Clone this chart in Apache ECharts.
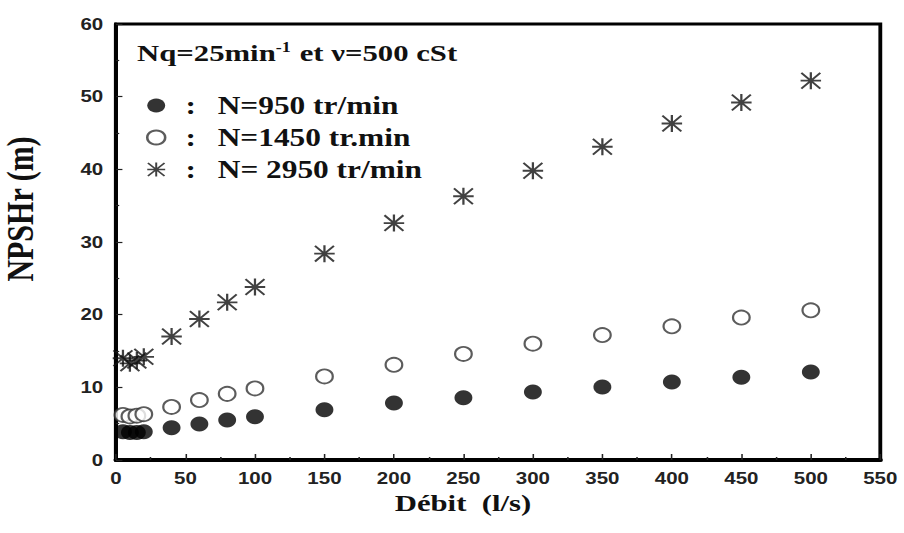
<!DOCTYPE html>
<html>
<head>
<meta charset="utf-8">
<script src="https://cdn.jsdelivr.net/npm/echarts@6/dist/echarts.min.js"></script>
<style>
html,body{margin:0;padding:0;background:#fff;overflow:hidden;width:904px;height:533px;}
#c{width:706px;height:533px;transform:scaleX(1.28045);transform-origin:0 0;}
</style>
</head>
<body>
<div id="c"></div>
<script>
// ---- data ----
var flow = [5, 10, 15, 20, 40, 60, 80, 100, 150, 200, 250, 300, 350, 400, 450, 500];
var npsh950 = [3.9, 3.8, 3.8, 3.9, 4.45, 4.95, 5.5, 5.95, 6.9, 7.85, 8.55, 9.35, 10.05, 10.75, 11.4, 12.1];
var npsh1450 = [6.2, 6.0, 6.1, 6.3, 7.3, 8.25, 9.1, 9.85, 11.5, 13.1, 14.6, 16.0, 17.2, 18.4, 19.6, 20.6];
var npsh2950 = [14.0, 13.3, 13.7, 14.2, 17.0, 19.4, 21.7, 23.8, 28.4, 32.6, 36.3, 39.8, 43.1, 46.3, 49.2, 52.2];
var seriesNames = ['N=950 tr/min', 'N=1450 tr.min', 'N= 2950 tr/min'];
var xTicks = [0, 50, 100, 150, 200, 250, 300, 350, 400, 450, 500, 550];
var yTicks = [0, 10, 20, 30, 40, 50, 60];

function pairs(xs, ys) { return xs.map(function (x, i) { return [x, ys[i]]; }); }

var starPath = 'path://M0,8.9L20,8.9L20,11.1L0,11.1Z M8.9,0L11.1,0L11.1,20L8.9,20Z M0,1.5L1.5,0L20,18.5L18.5,20Z M18.5,0L20,1.5L1.5,20L0,18.5Z';

var serif = '"Liberation Serif", "Times New Roman", serif';
var sans = '"Liberation Sans", Arial, sans-serif';

var chart = echarts.init(document.getElementById('c'), null, {renderer: 'svg', width: 706, height: 533});
chart.setOption({
  animation: false,
  backgroundColor: '#fff',
  grid: {left: 90.6, right: 18.5, top: 24, bottom: 73, containLabel: false, outerBoundsMode: 'none',
         show: true, borderColor: '#000', borderWidth: 3, backgroundColor: 'transparent'},
  title: {
    left: 102, top: 35,
    text: '{a|Nq=25min}{s|-1}{a| et ν=500 cSt}',
    textStyle: {
      rich: {
        a: {fontFamily: serif, fontWeight: 'bold', fontSize: 24, color: '#111', lineHeight: 26},
        s: {fontFamily: serif, fontWeight: 'bold', fontSize: 14, color: '#111', lineHeight: 26, padding: [0, 1, 12, 0]}
      }
    }
  },
  legend: {
    orient: 'vertical', left: 109, top: 88, itemGap: 7,
    itemWidth: 14, itemHeight: 15,
    data: seriesNames,
    formatter: function (n) { return '{c|:}{t|' + n + '}'; },
    textStyle: {
      rich: {
        c: {fontFamily: serif, fontWeight: 'bold', fontSize: 24.5, lineHeight: 25, color: '#111', width: 30, align: 'center'},
        t: {fontFamily: serif, fontWeight: 'bold', fontSize: 24.5, lineHeight: 25, color: '#111', padding: [0, 0, 0, 6]}
      }
    }
  },
  xAxis: {
    type: 'value', min: 0, max: 550, interval: 50,
    name: 'Débit  (l/s)', nameLocation: 'middle', nameGap: 21,
    nameTextStyle: {fontFamily: serif, fontWeight: 'bold', fontSize: 24, color: '#111', padding: [0, 55, 0, 0]},
    axisLine: {show: true, lineStyle: {color: '#000', width: 4}},
    axisTick: {show: true, inside: true, length: 6, lineStyle: {color: '#222', width: 1.2}},
    minorTick: {show: true, splitNumber: 2, length: 3, lineStyle: {color: '#222', width: 1.2}},
    splitLine: {show: false},
    axisLabel: {
      margin: 10, fontFamily: sans, fontWeight: 'bold', fontSize: 16, color: '#222',
      formatter: function (v) { return xTicks.indexOf(v) >= 0 ? String(v) : ''; }
    }
  },
  yAxis: {
    type: 'value', min: 0, max: 60, interval: 10,
    name: 'NPSHr (m)', nameLocation: 'middle', nameGap: 60, nameRotate: 90,
    nameTextStyle: {fontFamily: serif, fontWeight: 'bold', fontSize: 30, color: '#111', padding: [0, 0, 0, 66]},
    axisLine: {show: true, lineStyle: {color: '#000', width: 3.1}},
    axisTick: {show: true, inside: true, length: 5, lineStyle: {color: '#222', width: 1.2}},
    minorTick: {show: true, splitNumber: 2, length: 2.5, lineStyle: {color: '#222', width: 1.2}},
    splitLine: {show: false},
    axisLabel: {
      margin: 10, fontFamily: sans, fontWeight: 'bold', fontSize: 16, color: '#222',
      formatter: function (v) { return yTicks.indexOf(v) >= 0 ? String(v) : ''; }
    }
  },
  series: [
    {
      name: seriesNames[0], type: 'scatter', data: pairs(flow, npsh950),
      symbol: 'circle', symbolSize: [14, 15],
      itemStyle: {color: '#000'}
    },
    {
      name: seriesNames[1], type: 'scatter', data: pairs(flow, npsh1450),
      symbol: 'circle', symbolSize: [13, 14],
      itemStyle: {color: '#fff', borderColor: '#333', borderWidth: 1.8}
    },
    {
      name: seriesNames[2], type: 'scatter', data: pairs(flow, npsh2950),
      symbol: starPath, symbolSize: [16, 17],
      itemStyle: {color: '#111'}
    }
  ]
});
</script>
</body>
</html>
